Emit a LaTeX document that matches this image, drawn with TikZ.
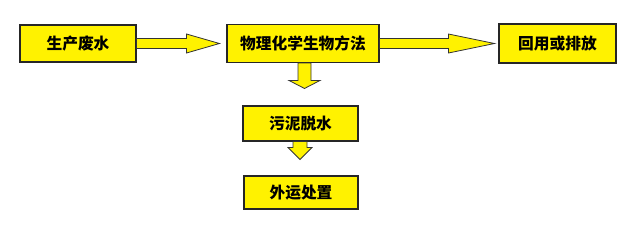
\documentclass[tikz,border=0pt]{standalone}
\usepackage{fontspec}
\newfontfamily\cjk{Noto Sans CJK SC}
\usetikzlibrary{calc}

\tikzset{
  stage/.style={draw=black!85, fill=yellow, line width=0.8pt, inner sep=0pt,
    font=\cjk\bfseries\fontsize{11.8}{14}\selectfont},
  blockarrow/.style={draw=black!80, fill=yellow, line width=0.6pt, line join=miter},
}

\begin{document}
\begin{tikzpicture}[x=0.75pt,y=-0.75pt]
  \useasboundingbox (0,0) rectangle (634,237);
  % stages
  \node[stage, minimum width=87pt,    minimum height=27.75pt] (waste)   at (78,43.5)    {生产废水};
  \node[stage, minimum width=114pt,   minimum height=28.5pt]  (treat)   at (303,43.5)   {物理化学生物方法};
  \node[stage, minimum width=87.75pt, minimum height=29.25pt] (reuse)   at (557.5,43.5) {回用或排放};
  \node[stage, minimum width=86.25pt, minimum height=26.25pt] (sludge)  at (300.5,123.5){污泥脱水};
  \node[stage, minimum width=85.5pt,  minimum height=24.75pt] (disposal) at (301,192.5) {外运处置};
  % block arrows
  \draw[blockarrow] ($(waste.east)+(0,-5)$) -- ($(treat.west)+(-40,-5)$)
    -- ($(treat.west)+(-40,-9.5)$) -- ($(treat.west)+(-7,0)$)
    -- ($(treat.west)+(-40,9.5)$) -- ($(treat.west)+(-40,5)$)
    -- ($(waste.east)+(0,5)$) -- cycle;
  \draw[blockarrow] ($(treat.east)+(0,-5)$) -- ($(reuse.west)+(-50,-5)$)
    -- ($(reuse.west)+(-50,-9.5)$) -- ($(reuse.west)+(-4,0)$)
    -- ($(reuse.west)+(-50,9.5)$) -- ($(reuse.west)+(-50,5)$)
    -- ($(treat.east)+(0,5)$) -- cycle;
  \draw[blockarrow] ($(treat.south)+(-5,0)$) -- ($(sludge.north)+(-2.5,-25)$)
    -- ($(sludge.north)+(-11.5,-25)$) -- ($(sludge.north)+(4,-17)$)
    -- ($(sludge.north)+(19.5,-25)$) -- ($(sludge.north)+(10.5,-25)$)
    -- ($(treat.south)+(8,0)$) -- cycle;
  \draw[blockarrow] ($(sludge.south)+(-7.5,0)$) -- ($(disposal.north)+(-8,-28)$)
    -- ($(disposal.north)+(-13,-28)$) -- ($(disposal.north)+(-1,-16)$)
    -- ($(disposal.north)+(11,-28)$) -- ($(disposal.north)+(6,-28)$)
    -- ($(sludge.south)+(6.5,0)$) -- cycle;
\end{tikzpicture}
\end{document}
